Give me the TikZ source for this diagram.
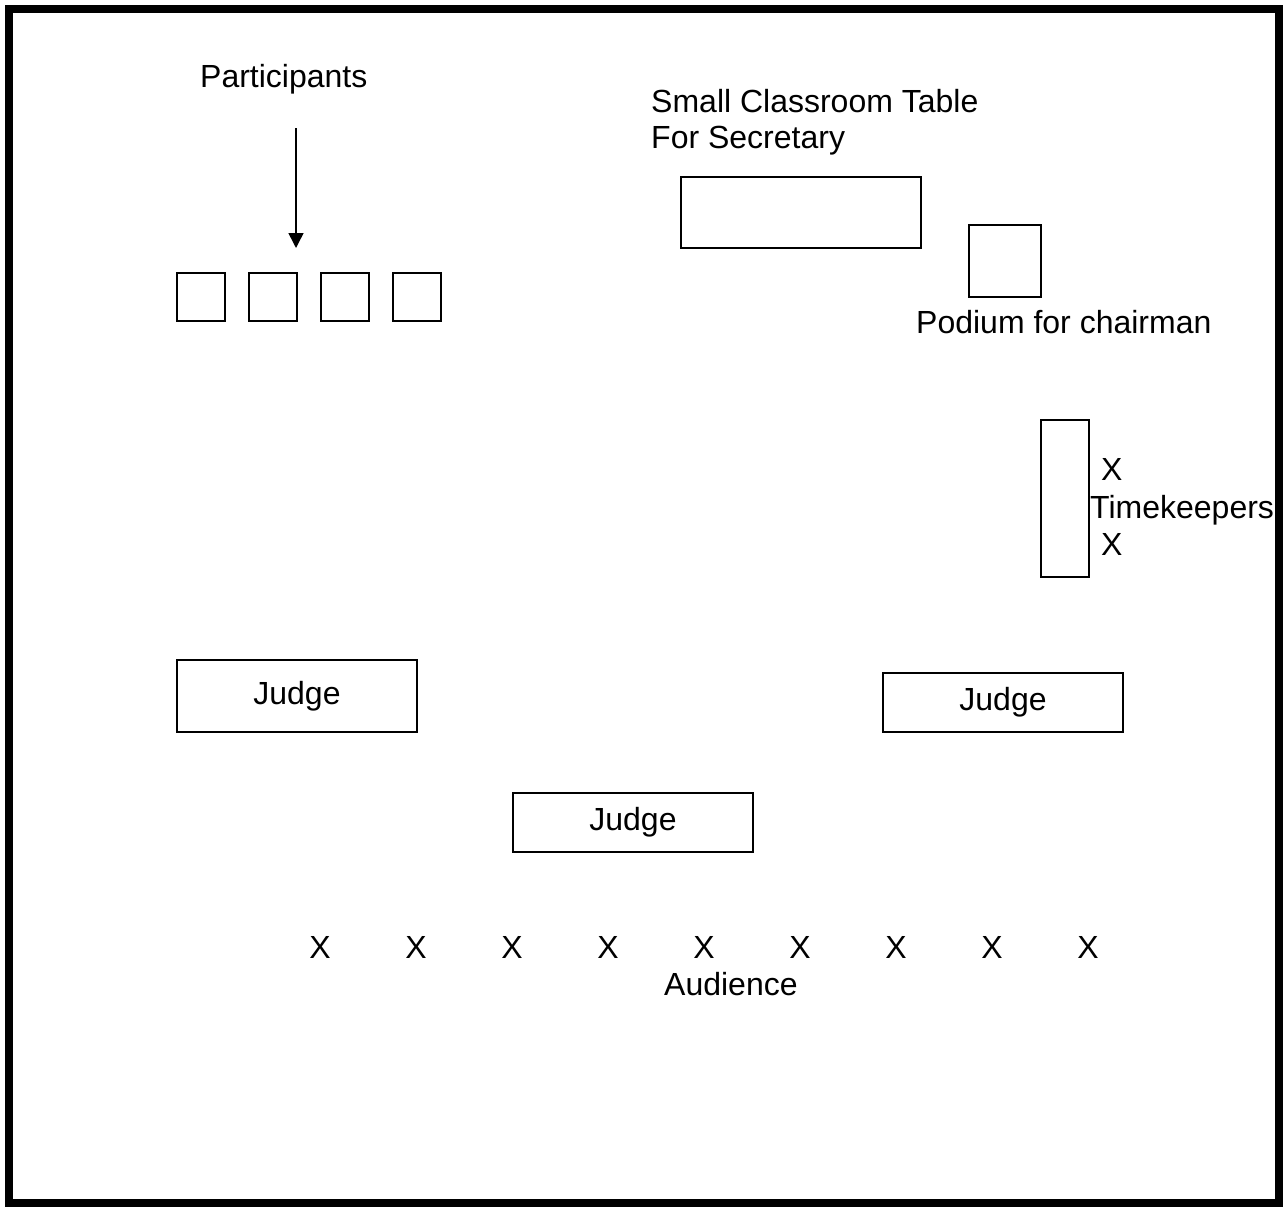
\documentclass[tikz,border=0pt]{standalone}
\usepackage{fontspec}
\setmainfont{Liberation Sans}
\usetikzlibrary{arrows.meta}
\begin{document}
\begin{tikzpicture}[>={Triangle[width=15pt,length=15pt]},x=1pt,y=-1pt,
		font=\fontsize{32}{38}\selectfont,
		txt/.style={anchor=base west,inner sep=0pt},
		box/.style={draw,line width=2pt,inner sep=0pt}]
		\def\jw{240pt} % width of the judge tables
		\useasboundingbox (0,0) rectangle (1284,1207);
		\draw[line width=8pt] (9,9) rectangle (1279,1203);
		% participants
		\node[txt] (parts) at (200,88) {Participants};
		\foreach \i in {1,...,4} \node[box,minimum width=48pt,minimum height=48pt] (seat\i) at (129+72*\i,297) {};
		\coordinate (ptop) at (296,128);
		\coordinate (ptip) at (296,248);
		\draw[->,line width=1.5pt] (ptop) -- (ptip);
		% secretary and chairman
		\node[txt] (sectxt) at (651,112) {Small Classroom Table};
		\node[txt] (sectxt2) at (651,148) {For Secretary};
		\node[box,minimum width=240pt,minimum height=71pt] (sec) at (801,212.5) {};
		\node[box,minimum width=72pt,minimum height=72pt] (podium) at (1005,261) {};
		\node[txt] (podtxt) at (916,333) {Podium for chairman};
		% timekeepers
		\node[box,minimum width=48pt,minimum height=157pt] (tk) at (1065,498.5) {};
		\node[txt] (tkx1) at (1101,480) {X};
		\node[txt] (tktxt) at (1090,518) {Timekeepers};
		\node[txt] (tkx2) at (1101,555) {X};
		% judges
		\node[box,minimum width=\jw,minimum height=72pt] (judge1) at (297,696) {Judge};
		\node[box,minimum width=\jw,minimum height=59pt] (judge2) at (1003,702.5) {Judge};
		\node[box,minimum width=\jw,minimum height=59pt] (judge3) at (633,822.5) {Judge};
		% audience
		\foreach \i in {0,...,8} \node[anchor=base,inner sep=0pt] (aud\i) at (320+96*\i,958) {X};
		\node[txt] (audtxt) at (664,995) {Audience};
		\end{tikzpicture}
\end{document}
